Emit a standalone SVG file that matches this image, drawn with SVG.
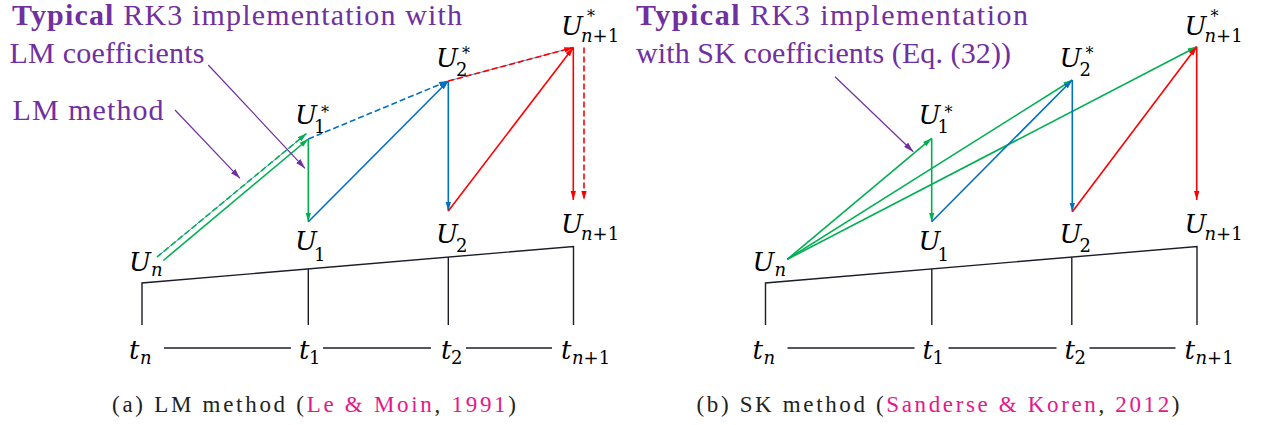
<svg xmlns="http://www.w3.org/2000/svg" width="1261" height="425" viewBox="0 0 1261 425">
<defs>
<style>
.bg{fill:#ffffff}
.title{font-size:30px;fill:#7030a0}
.b{font-weight:bold}
.m{font-style:italic;font-size:26px;fill:#000}
.s{font-style:normal;font-size:18px;fill:#000}
.si{font-style:italic;font-size:18px;fill:#000}
.st{font-style:normal;font-size:16px;fill:#000}
.cap{font-size:23px;fill:#222}
.pk{fill:#e6168c}
.tl{fill:none;stroke:#1c1c2a;stroke-width:1.4}
.g{fill:none;stroke:#00b050;stroke-width:1.6}
.bl{fill:none;stroke:#0070c0;stroke-width:1.6}
.r{fill:none;stroke:#ff0000;stroke-width:1.6}
.thin-b{fill:none;stroke:#4a8fd0;stroke-width:1}
.pu{fill:none;stroke:#7030a0;stroke-width:1.2}
.dash{stroke-dasharray:6 3}
</style>
<marker id="ag" viewBox="0 0 10 6" refX="10" refY="3" markerWidth="9" markerHeight="6" markerUnits="userSpaceOnUse" orient="auto"><path d="M0,0 L10,3 L0,6 z" fill="#00b050"/></marker>
<marker id="ab" viewBox="0 0 10 6" refX="10" refY="3" markerWidth="9" markerHeight="6" markerUnits="userSpaceOnUse" orient="auto"><path d="M0,0 L10,3 L0,6 z" fill="#0070c0"/></marker>
<marker id="ar" viewBox="0 0 10 6" refX="10" refY="3" markerWidth="9" markerHeight="6" markerUnits="userSpaceOnUse" orient="auto"><path d="M0,0 L10,3 L0,6 z" fill="#ff0000"/></marker>
<marker id="ap" viewBox="0 0 10 6" refX="10" refY="3" markerWidth="10" markerHeight="6" markerUnits="userSpaceOnUse" orient="auto"><path d="M0,0 L10,3 L0,6 z" fill="#7030a0"/></marker>
</defs>
<rect class="bg" x="0" y="0" width="1261" height="425"/>

<g id="title-a" font-family="Liberation Serif, serif">
<text class="title" x="12" y="25" textLength="450" lengthAdjust="spacing"><tspan class="b">Typical</tspan> RK3 implementation with</text>
<text class="title" x="9.5" y="63" textLength="195" lengthAdjust="spacing">LM coefficients</text>
</g>
<g id="label-lm-method" font-family="Liberation Serif, serif">
<text class="title" x="12.5" y="119.5" textLength="151" lengthAdjust="spacing">LM method</text>
</g>
<g id="title-b" font-family="Liberation Serif, serif">
<text class="title" x="636" y="25" textLength="392" lengthAdjust="spacing"><tspan class="b">Typical</tspan> RK3 implementation</text>
<text class="title" x="636" y="63.3" textLength="375" lengthAdjust="spacing">with SK coefficients (Eq. (32))</text>
</g>

<g id="timeline-a">
<polyline class="tl" points="142,325 142,283 573.5,246.5 573.5,325"/>
<line class="tl" x1="308.3" y1="268.8" x2="308.3" y2="325"/>
<line class="tl" x1="448.3" y1="257.1" x2="448.3" y2="325"/>
<line class="tl" x1="164" y1="348" x2="291" y2="348"/>
<line class="tl" x1="323" y1="348" x2="431" y2="348"/>
<line class="tl" x1="466" y1="348" x2="552" y2="348"/>
</g>
<g id="timeline-b" transform="translate(623.5,0)">
<polyline class="tl" points="142,325 142,283 573.5,246.5 573.5,325"/>
<line class="tl" x1="308.3" y1="268.8" x2="308.3" y2="325"/>
<line class="tl" x1="448.3" y1="257.1" x2="448.3" y2="325"/>
<line class="tl" x1="164" y1="348" x2="291" y2="348"/>
<line class="tl" x1="325" y1="348" x2="433" y2="348"/>
<line class="tl" x1="466" y1="348" x2="552" y2="348"/>
</g>

<g id="connectors">
<line class="thin-b" x1="157" y1="257" x2="305" y2="134.8"/>
<line class="g dash" x1="157" y1="257" x2="306.5" y2="133.5" marker-end="url(#ag)"/>
<line class="g" x1="163.3" y1="260.5" x2="308.3" y2="139" marker-end="url(#ag)"/>
<line class="g" x1="308.3" y1="139" x2="308.3" y2="221.7" marker-end="url(#ag)"/>
<line class="bl" x1="308.3" y1="221.7" x2="448.3" y2="81" marker-end="url(#ab)"/>
<line class="bl dash" x1="308.3" y1="139" x2="448" y2="81" marker-end="url(#ab)"/>
<line class="bl" x1="448.3" y1="81" x2="448.3" y2="211" marker-end="url(#ab)"/>
<line class="r" x1="448.3" y1="211" x2="573.3" y2="47.5" marker-end="url(#ar)"/>
<line class="thin-b" x1="448.3" y1="81" x2="571" y2="48"/>
<line class="r dash" x1="448.3" y1="81" x2="573.3" y2="47.5" marker-end="url(#ar)"/>
<line class="r" x1="573.3" y1="47.5" x2="573.3" y2="200" marker-end="url(#ar)"/>
<line class="r dash" x1="584" y1="47.5" x2="584" y2="200" marker-end="url(#ar)"/>
<line class="pu" x1="208.3" y1="65" x2="305" y2="168.3" marker-end="url(#ap)"/>
<line class="pu" x1="175" y1="110" x2="240" y2="178.3" marker-end="url(#ap)"/>
<line class="g" x1="787.3" y1="259.3" x2="931.7" y2="138.3" marker-end="url(#ag)"/>
<line class="g" x1="787.3" y1="259.3" x2="1072.3" y2="80" marker-end="url(#ag)"/>
<line class="g" x1="787.3" y1="259.3" x2="1196.7" y2="46.7" marker-end="url(#ag)"/>
<line class="g" x1="931.7" y1="138.3" x2="931.7" y2="221.7" marker-end="url(#ag)"/>
<line class="bl" x1="931.7" y1="221.7" x2="1072.3" y2="80" marker-end="url(#ab)"/>
<line class="bl" x1="1072.3" y1="80" x2="1072.3" y2="211.7" marker-end="url(#ab)"/>
<line class="r" x1="1072.3" y1="211.7" x2="1196.7" y2="46.7" marker-end="url(#ar)"/>
<line class="r" x1="1196.7" y1="46.7" x2="1196.7" y2="200" marker-end="url(#ar)"/>
<line class="pu" x1="835" y1="76.7" x2="913.3" y2="151.7" marker-end="url(#ap)"/>
</g>

<g id="nodes-a" font-family="DejaVu Serif, serif">
<g id="a-Un"><text class="m" x="129" y="271">U</text><text class="si" x="151" y="276">n</text></g>
<g id="a-U1s"><text class="m" x="295" y="123.5">U</text><text class="st" x="321" y="118">*</text><text class="s" x="314" y="133">1</text></g>
<g id="a-U1"><text class="m" x="295" y="250">U</text><text class="s" x="314" y="261">1</text></g>
<g id="a-U2s"><text class="m" x="436" y="67">U</text><text class="st" x="462" y="59">*</text><text class="s" x="456" y="76">2</text></g>
<g id="a-U2"><text class="m" x="436" y="243">U</text><text class="s" x="456" y="252">2</text></g>
<g id="a-Unp1s"><text class="m" x="561" y="35">U</text><text class="st" x="587" y="22">*</text><text x="581" y="42"><tspan class="si">n</tspan><tspan class="s">+1</tspan></text></g>
<g id="a-Unp1"><text class="m" x="561" y="233">U</text><text x="581" y="240"><tspan class="si">n</tspan><tspan class="s">+1</tspan></text></g>
<g id="a-tn"><text class="m" x="129" y="359">t</text><text class="si" x="140" y="364">n</text></g>
<g id="a-t1"><text class="m" x="299" y="359">t</text><text class="s" x="309" y="364">1</text></g>
<g id="a-t2"><text class="m" x="441" y="359">t</text><text class="s" x="451" y="364">2</text></g>
<g id="a-tnp1"><text class="m" x="561" y="359">t</text><text x="572" y="364"><tspan class="si">n</tspan><tspan class="s">+1</tspan></text></g>
</g>

<g id="nodes-b" font-family="DejaVu Serif, serif">
<g id="b-Un"><text class="m" x="752.5" y="271">U</text><text class="si" x="774.5" y="276">n</text></g>
<g id="b-U1s"><text class="m" x="918.5" y="123.5">U</text><text class="st" x="944.5" y="118">*</text><text class="s" x="937.5" y="133">1</text></g>
<g id="b-U1"><text class="m" x="918.5" y="250">U</text><text class="s" x="937.5" y="261">1</text></g>
<g id="b-U2s"><text class="m" x="1059.5" y="67">U</text><text class="st" x="1085.5" y="59">*</text><text class="s" x="1079.5" y="76">2</text></g>
<g id="b-U2"><text class="m" x="1059.5" y="243">U</text><text class="s" x="1079.5" y="252">2</text></g>
<g id="b-Unp1s"><text class="m" x="1184.5" y="35">U</text><text class="st" x="1210.5" y="22">*</text><text x="1204.5" y="42"><tspan class="si">n</tspan><tspan class="s">+1</tspan></text></g>
<g id="b-Unp1"><text class="m" x="1184.5" y="233">U</text><text x="1204.5" y="240"><tspan class="si">n</tspan><tspan class="s">+1</tspan></text></g>
<g id="b-tn"><text class="m" x="752.5" y="359">t</text><text class="si" x="763.5" y="364">n</text></g>
<g id="b-t1"><text class="m" x="922.5" y="359">t</text><text class="s" x="932.5" y="364">1</text></g>
<g id="b-t2"><text class="m" x="1064.5" y="359">t</text><text class="s" x="1074.5" y="364">2</text></g>
<g id="b-tnp1"><text class="m" x="1184.5" y="359">t</text><text x="1195.5" y="364"><tspan class="si">n</tspan><tspan class="s">+1</tspan></text></g>
</g>

<g id="caption-a" font-family="Liberation Serif, serif"><text class="cap" x="112" y="411.5" textLength="404" lengthAdjust="spacing">(a) LM method (<tspan class="pk">Le &amp; Moin</tspan>, <tspan class="pk">1991</tspan>)</text></g>
<g id="caption-b" font-family="Liberation Serif, serif"><text class="cap" x="696.5" y="411.5" textLength="483" lengthAdjust="spacing">(b) SK method (<tspan class="pk">Sanderse &amp; Koren</tspan>, <tspan class="pk">2012</tspan>)</text></g>
</svg>
